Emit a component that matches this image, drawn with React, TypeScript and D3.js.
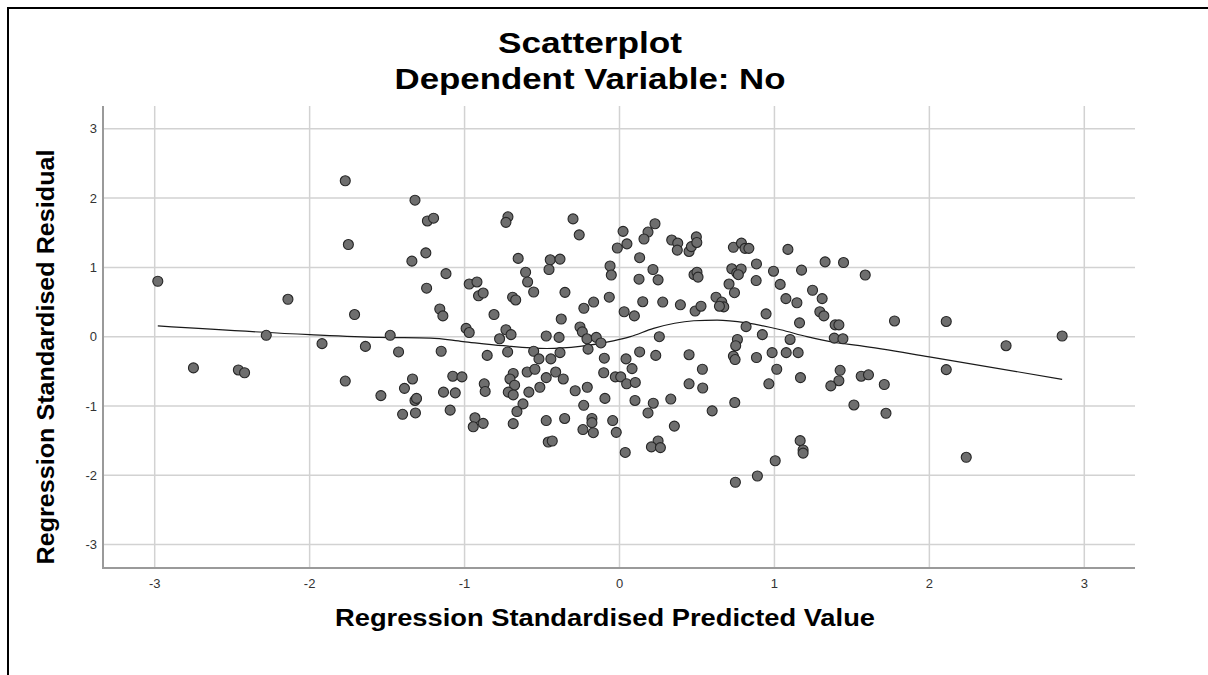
import React from "react";
import * as d3 from "d3";

// Regression standardised predicted value (x) and residual (y) for each case
const predicted: number[] = [
  -2.98, -1.77, -1.75, -2.14, -1.71, -2.28, -1.92, -1.64, -1.48, -2.75, -2.46, -2.42, -1.77, -1.54,
  -1.32, -1.24, -1.2, -1.25, -1.34, -1.12, -1.245, -1.16, -1.14, -0.72, -0.733, -0.654, -0.606, -0.593,
  -0.554, -0.97, -0.92, -0.91, -0.88, -0.69, -0.67, -0.81, -0.99, -0.97, -0.733, -0.7, -0.774, -0.473,
  -0.39, -0.376, -0.447, -0.384, -0.455, -0.352, -0.3, -0.26, -0.061, -0.053, -0.066, 0.023, -0.014,
  0.048, -0.23, -0.167, 0.03, -0.255, -0.24, -0.21, -0.15, -0.12,
  -1.426, -1.151, -1.388, -1.336, -1.32, -1.31, -1.4, -1.317, -1.076, -1.017, -1.136, -1.06, -1.093,
  -0.854, -0.873, -0.867, -0.933, -0.944, -0.88, -0.722, -0.686, -0.707, -0.677, -0.718, -0.686,
  -0.623, -0.662, -0.686, -0.596, -0.546, -0.585, -0.554, -0.52, -0.443, -0.384, -0.473, -0.412,
  -0.363, -0.514, -0.473, -0.354, -0.46, -0.434, -0.286, -0.208, -0.231, -0.178, -0.178, -0.236,
  -0.169, -0.203, -0.098, -0.102, -0.027, 0.008, 0.046, 0.042, -0.094, -0.044, -0.021, 0.037,
  0.229, 0.184, 0.158, 0.13, 0.216, 0.126, 0.249, 0.15, 0.279, 0.393, 0.096, 0.337, 0.376, 0.373,
  0.449, 0.464, 0.496, 0.499, 0.481, 0.5, 0.507, 0.488, 0.526, 0.257, 0.735, 0.787, 0.81, 0.835,
  0.725, 0.757, 0.785, 0.767, 0.884, 0.882, 0.707, 0.742, 0.623, 0.66, 0.673, 0.645, 0.817, 0.922,
  0.946, 0.994, 1.037, 1.087, 1.175, 1.246, 1.308, 1.074, 1.145, 1.293, 1.319, 1.162, 1.327, 1.446,
  1.586, 1.392, 1.416, 1.386, 1.442, 1.101, 0.761, 0.75,
  0.081, 0.13, 0.102, 0.1, 0.218, 0.184, 0.331, 0.234, 0.354, 0.249, 0.206, 0.264, 0.449, 0.535,
  0.449, 0.537, 0.598, 0.744, 0.735, 0.746, 0.884, 0.985, 1.076, 1.153, 1.015, 0.964, 1.168, 1.166,
  1.185, 1.185, 1.005, 0.89, 0.748, 1.424, 1.416, 1.364, 1.513, 1.56, 1.607,
  1.775, 2.109, 2.495, 2.857, 1.709, 1.72, 2.109, 2.238,
];

const residual: number[] = [
  0.8, 2.25, 1.33, 0.54, 0.32, 0.02, -0.1, -0.14, 0.02, -0.45, -0.48, -0.52, -0.64, -0.85,
  1.97, 1.67, 1.71, 1.21, 1.09, 0.91, 0.7, 0.4, 0.3, 1.73, 1.65, 1.13, 0.93, 0.79,
  0.645, 0.76, 0.79, 0.59, 0.63, 0.57, 0.53, 0.32, 0.12, 0.06, 0.1, 0.03, -0.03, 0.01,
  -0.01, 0.255, 1.11, 1.12, 0.97, 0.64, 1.7, 1.47, 1.02, 0.89, 0.57, 1.52, 1.28,
  1.34, 0.41, 0.5, 0.36, 0.14, 0.07, -0.03, -0.01, -0.09,
  -0.22, -0.21, -0.745, -0.61, -0.92, -0.89, -1.12, -1.1, -0.57, -0.58, -0.8, -0.81, -1.06,
  -0.27, -0.68, -0.79, -1.17, -1.3, -1.25, -0.22, -0.53, -0.61, -0.7, -0.8, -0.84,
  -0.97, -1.08, -1.255, -0.51, -0.47, -0.8, -0.21, -0.32, -0.32, -0.23, -0.59, -0.51,
  -0.61, -0.73, -1.21, -1.18, -1.52, -1.505, -0.78, -0.73, -0.99, -1.18, -1.24, -1.34,
  -1.385, -0.18, -0.31, -0.52, -0.58, -0.58, -0.68, -0.32, -0.89, -1.21, -1.38, -1.67,
  1.63, 1.51, 1.41, 1.14, 0.97, 0.83, 0.82, 0.505, 0.5, 0.46, 0.3, 1.395, 1.35, 1.25,
  1.23, 1.3, 1.44, 1.36, 0.895, 0.93, 0.86, 0.37, 0.44, 0.0, 1.29, 1.35, 1.275, 1.275,
  0.98, 0.92, 0.977, 0.895, 1.05, 0.81, 0.76, 0.635, 0.57, 0.5, 0.43, 0.44, 0.145, 0.03,
  0.33, 0.945, 0.755, 1.26, 0.96, 0.67, 0.55, 0.55, 0.49, 0.36, 0.3, 0.2, 1.08, 1.07,
  0.89, 0.17, 0.17, -0.02, -0.03, -0.04, -0.04, -0.13,
  -0.46, -0.22, -0.66, -0.92, -0.96, -1.1, -0.9, -0.27, -1.29, -1.505, -1.59, -1.6, -0.26, -0.47,
  -0.68, -0.74, -1.07, -0.95, -0.28, -0.33, -0.3, -0.23, -0.23, -0.23, -0.47, -0.68, -0.59, -1.5,
  -1.635, -1.68, -1.79, -2.01, -2.1, -0.485, -0.635, -0.71, -0.985, -0.57, -0.55,
  0.227, 0.22, -0.13, 0.01, -0.69, -1.105, -0.475, -1.74,
];

// Loess fit line
const fitX: number[] = [-2.98, -2.0, -1.55, -1.22, -1.01, -0.75, -0.47, -0.255, -0.04, 0.07, 0.22, 0.48, 0.63, 0.82, 1.04, 1.21, 1.38, 1.55, 2.0, 2.857];
const fitY: number[] = [0.155, 0.03, -0.01, -0.02, -0.07, -0.13, -0.17, -0.14, -0.06, 0.0, 0.12, 0.23, 0.24, 0.2, 0.1, 0.0, -0.08, -0.13, -0.29, -0.615];

const xTicks: number[] = [-3, -2, -1, 0, 1, 2, 3];
const yTicks: number[] = [3, 2, 1, 0, -1, -2, -3];

const titleLines: string[] = ["Scatterplot", "Dependent Variable: No"];
const xTitle = "Regression Standardised Predicted Value";
const yTitle = "Regression Standardised Residual";

const W = 1208;
const H = 675;
const plot = { left: 103, right: 1135, top: 106, bottom: 568 };

export default function App() {
  const x = d3.scaleLinear().domain([-3, 3]).range([154.7, 1084.3]);
  const y = d3.scaleLinear().domain([-3, 3]).range([544.6, 128.8]);

  const points = predicted.map((p, i) => ({ px: p, py: residual[i] }));
  const fit = fitX.map((v, i) => [v, fitY[i]] as [number, number]);
  const line = d3
    .line<[number, number]>()
    .x((d) => x(d[0]))
    .y((d) => y(d[1]))
    .curve(d3.curveMonotoneX);

  const font = "'Liberation Sans', Arial, Helvetica, sans-serif";

  return (
    <svg
      width={W}
      height={H}
      style={{ position: "absolute", left: 0, top: 0, background: "#fff" }}
      fontFamily={font}
    >
      <rect x={0} y={0} width={W} height={H} fill="#fff" />
      {/* outer frame */}
      <line x1={7} y1={8} x2={W} y2={8} stroke="#000" strokeWidth={2} />
      <line x1={8} y1={7} x2={8} y2={H} stroke="#000" strokeWidth={2} />

      {/* title */}
      <text x={590} y={53} textAnchor="middle" fontSize={29} fontWeight="bold" textLength={184} lengthAdjust="spacingAndGlyphs">
        {titleLines[0]}
      </text>
      <text x={590} y={89} textAnchor="middle" fontSize={29} fontWeight="bold" textLength={391} lengthAdjust="spacingAndGlyphs">
        {titleLines[1]}
      </text>

      {/* gridlines */}
      {yTicks.map((t) => (
        <line key={"gy" + t} x1={plot.left} x2={plot.right} y1={y(t)} y2={y(t)} stroke="#d2d2d2" strokeWidth={1.5} />
      ))}
      {xTicks.map((t) => (
        <line key={"gx" + t} x1={x(t)} x2={x(t)} y1={plot.top} y2={plot.bottom} stroke="#d2d2d2" strokeWidth={1.5} />
      ))}

      {/* axes */}
      <line x1={plot.left} x2={plot.left} y1={plot.top} y2={plot.bottom + 1} stroke="#9a9a9a" strokeWidth={2} />
      <line x1={plot.left} x2={plot.right} y1={plot.bottom} y2={plot.bottom} stroke="#9a9a9a" strokeWidth={2} />

      {/* tick labels */}
      {yTicks.map((t) => (
        <text key={"ty" + t} x={97} y={y(t)} dy="0.35em" textAnchor="end" fontSize={13} fill="#333">
          {t}
        </text>
      ))}
      {xTicks.map((t) => (
        <text key={"tx" + t} x={x(t)} y={588} textAnchor="middle" fontSize={13} fill="#333">
          {t}
        </text>
      ))}

      {/* axis titles */}
      <text x={605} y={626} textAnchor="middle" fontSize={23} fontWeight="bold" textLength={540} lengthAdjust="spacingAndGlyphs">
        {xTitle}
      </text>
      <text
        transform={`translate(54, 357) rotate(-90)`}
        textAnchor="middle"
        fontSize={23}
        fontWeight="bold"
        textLength={415}
        lengthAdjust="spacingAndGlyphs"
      >
        {yTitle}
      </text>

      {/* loess line */}
      <path d={line(fit) || ""} fill="none" stroke="#1a1a1a" strokeWidth={1.2} />

      {/* points */}
      {points.map((d, i) => (
        <circle key={i} cx={x(d.px)} cy={y(d.py)} r={5} fill="#6e6e6e" stroke="#262626" strokeWidth={1.1} />
      ))}
    </svg>
  );
}
